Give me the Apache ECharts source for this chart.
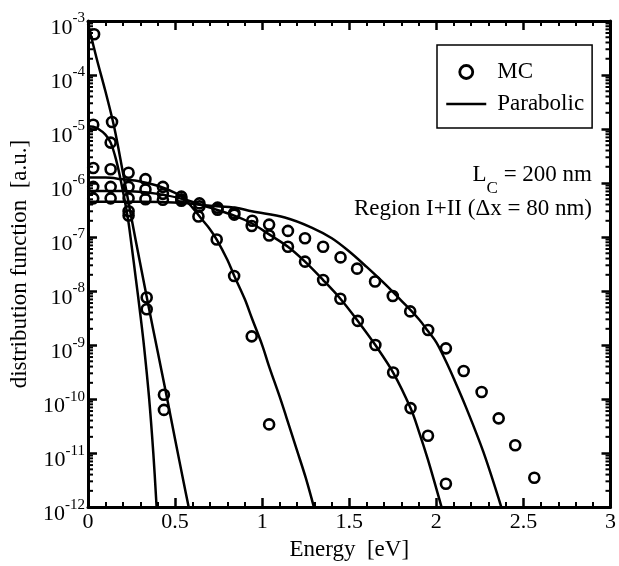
<!DOCTYPE html>
<html>
<head>
<meta charset="utf-8">
<script src="https://cdn.jsdelivr.net/npm/echarts@6/dist/echarts.min.js"></script>
<style>
  html, body { margin: 0; padding: 0; background: #fff; }
  #chart { width: 619px; height: 566px; }
</style>
</head>
<body>
<div id="chart"></div>
<script>
// ---- Monte Carlo samples: energy [eV] and distribution function [a.u.] ----
const mcA_E = [0.035, 0.138, 0.233, 0.337, 0.436];
const mcA_f = [5.7e-4, 1.35e-5, 3.0e-7, 7.6e-9, 1.2e-10];

const mcB_E = [0.03, 0.13, 0.233, 0.337, 0.436];
const mcB_f = [1.2e-5, 5.6e-6, 2.5e-7, 4.6e-9, 6.3e-11];

const mcC_E = [0.03, 0.13, 0.233, 0.33, 0.43, 0.536, 0.634, 0.739, 0.839, 0.94, 1.04];
const mcC_f = [1.9e-6, 1.8e-6, 1.55e-6, 1.18e-6, 8.5e-7, 5.6e-7, 2.4e-7, 9.0e-8, 1.9e-8, 1.45e-9, 3.4e-11];

const mcD_E = [0.03, 0.13, 0.233, 0.33, 0.43, 0.536, 0.64, 0.744, 0.84, 0.94, 1.04, 1.148,
               1.246, 1.35, 1.449, 1.549, 1.65, 1.752, 1.852, 1.952, 2.055];
const mcD_f = [8.5e-7, 8.5e-7, 8.5e-7, 7.6e-7, 6.3e-7, 5.0e-7, 3.7e-7, 3.2e-7, 2.6e-7, 1.6e-7,
               1.07e-7, 6.6e-8, 3.5e-8, 1.6e-8, 7.2e-9, 2.8e-9, 1.0e-9, 3.1e-10, 6.8e-11, 2.1e-11, 2.7e-12];

const mcE_E = [0.03, 0.13, 0.233, 0.33, 0.43, 0.536, 0.64, 0.744, 0.84, 0.943, 1.04, 1.148, 1.246,
               1.35, 1.45, 1.545, 1.648, 1.75, 1.85, 1.953, 2.055, 2.157, 2.26, 2.358, 2.453, 2.5625];
const mcE_f = [5.2e-7, 5.2e-7, 5.2e-7, 5.0e-7, 4.9e-7, 4.7e-7, 4.2e-7, 3.5e-7, 2.8e-7, 2.0e-7, 1.7e-7,
               1.3e-7, 9.5e-8, 6.6e-8, 4.2e-8, 2.6e-8, 1.5e-8, 8.1e-9, 4.2e-9, 1.9e-9, 8.7e-10,
               3.3e-10, 1.35e-10, 4.4e-11, 1.4e-11, 3.5e-12];

// ---- Parabolic-band model curves ----
const parA_E = [0, 0.05, 0.1, 0.15, 0.2, 0.25, 0.3, 0.35, 0.4, 0.45, 0.5, 0.55, 0.578];
const parA_f = [8.9e-4, 2.0e-4, 5.0e-5, 1.1e-5, 1.6e-6, 2.2e-7, 3.2e-8, 4.8e-9, 7.6e-10, 1.2e-10,
                1.8e-11, 2.8e-12, 1.0e-12];

const parB_E = [0, 0.03, 0.06, 0.1, 0.13, 0.16, 0.19, 0.227, 0.25, 0.275, 0.3, 0.322, 0.35, 0.375, 0.394];
const parB_f = [1.12e-5, 1.1e-5, 1.0e-5, 7.9e-6, 5.6e-6, 2.8e-6, 1.05e-6, 2.45e-7, 7.1e-8, 1.66e-8,
                3.8e-9, 9.3e-10, 1.12e-10, 1.0e-11, 1.0e-12];

const parC_E = [0, 0.1, 0.2, 0.3, 0.4, 0.5, 0.545, 0.6, 0.65, 0.7, 0.74, 0.8, 0.84, 0.9, 0.94, 1.0,
                1.04, 1.1, 1.14, 1.2, 1.25, 1.297];
const parC_f = [1.26e-6, 1.26e-6, 1.17e-6, 1.07e-6, 8.9e-7, 6.6e-7, 5.4e-7, 3.5e-7, 2.2e-7, 1.4e-7,
                8.9e-8, 3.8e-8, 1.9e-8, 7.1e-9, 3.2e-9, 1.0e-9, 4.0e-10, 1.12e-10, 4.5e-11, 1.12e-11,
                3.5e-12, 1.0e-12];

const parD_E = [0, 0.2, 0.4, 0.55, 0.7, 0.84, 0.94, 1.04, 1.148, 1.246, 1.35, 1.449, 1.549, 1.65,
                1.752, 1.852, 1.9, 1.95, 2.0, 2.03];
const parD_f = [7.1e-7, 7.1e-7, 6.3e-7, 5.0e-7, 3.5e-7, 2.5e-7, 1.8e-7, 1.12e-7, 6.6e-8, 3.5e-8,
                1.6e-8, 7.2e-9, 2.8e-9, 1.0e-9, 3.1e-10, 6.8e-11, 2.5e-11, 7.9e-12, 2.2e-12, 1.0e-12];

const parE_E = [0, 0.3, 0.527, 0.7, 0.85, 0.94, 1.13, 1.284, 1.4, 1.5, 1.6, 1.7, 1.8, 1.9,
                1.953, 2.0, 2.055, 2.1, 2.17, 2.27, 2.373];
const parE_f = [4.5e-7, 4.5e-7, 4.3e-7, 3.8e-7, 3.5e-7, 3.0e-7, 2.3e-7, 1.5e-7, 9.5e-8, 5.4e-8,
                2.8e-8, 1.4e-8, 6.6e-9, 3.0e-9, 1.8e-9, 1.12e-9, 5.0e-10, 2.4e-10, 7.1e-11, 1.05e-11, 1.0e-12];

// ---- axes ----
const xTicks = [0, 0.5, 1, 1.5, 2, 2.5, 3];
const yExponents = [-12, -11, -10, -9, -8, -7, -6, -5, -4, -3];
const minorMultipliers = [2, 3, 4, 5, 6, 7, 8, 9];

const SERIF = "'Liberation Serif', 'DejaVu Serif', serif";

function pairs(xs, ys) { return xs.map((x, i) => [x, ys[i]]); }

// log-spaced minor ticks for the decade axis (2..9 times each power of ten)
const yMinor = [];
for (let k = 0; k < yExponents.length - 1; k++) {
  for (const m of minorMultipliers) yMinor.push([0, m * Math.pow(10, yExponents[k])]);
}

const mcStyle = { color: 'transparent', borderColor: '#000', borderWidth: 2.6, opacity: 1 };
function mcSeries(xs, ys) {
  return {
    name: 'MC', type: 'scatter', symbol: 'circle', symbolSize: 10,
    itemStyle: mcStyle, data: pairs(xs, ys), z: 4
  };
}
function parSeries(xs, ys) {
  return {
    name: 'Parabolic', type: 'line', symbol: 'none', smooth: 0.35,
    lineStyle: { color: '#000', width: 2.5 }, itemStyle: { color: '#000' },
    data: pairs(xs, ys), z: 3
  };
}

const commonX = {
  type: 'value', min: xTicks[0], max: xTicks[xTicks.length - 1], interval: 0.5,
  axisLine: { show: true, onZero: false, lineStyle: { color: '#000', width: 3 } },
  axisTick: { show: true, inside: true, length: 9, lineStyle: { color: '#000', width: 2.5 } },
  minorTick: { show: true, splitNumber: 5, length: 5, lineStyle: { color: '#000', width: 2 } },
  splitLine: { show: false }, minorSplitLine: { show: false }
};
const commonY = {
  type: 'log', logBase: 10, min: Math.pow(10, yExponents[0]),
  max: Math.pow(10, yExponents[yExponents.length - 1]), splitNumber: 9,
  axisLine: { show: true, onZero: false, lineStyle: { color: '#000', width: 3 } },
  axisTick: { show: true, inside: true, length: 9, lineStyle: { color: '#000', width: 2.5 } },
  splitLine: { show: false }
};

const chart = echarts.init(document.getElementById('chart'), null, { renderer: 'canvas' });
chart.setOption({
  animation: false,
  backgroundColor: '#fff',
  grid: { left: 84, right: 7, top: 21, bottom: 48, containLabel: false },
  xAxis: [
    Object.assign({}, commonX, {
      position: 'bottom',
      name: 'Energy  [eV]', nameLocation: 'middle', nameGap: 17,
      nameTextStyle: { fontFamily: SERIF, fontSize: 23, color: '#000' },
      axisLabel: {
        show: true, margin: 4, color: '#000', fontFamily: SERIF, fontSize: 22,
        formatter: v => String(v)
      }
    }),
    Object.assign({}, commonX, { position: 'top', axisLabel: { show: false } })
  ],
  yAxis: [
    Object.assign({}, commonY, {
      position: 'left',
      name: 'distribution function  [a.u.]', nameLocation: 'middle', nameGap: 57, nameRotate: 90,
      nameTextStyle: { fontFamily: SERIF, fontSize: 23, color: '#000' },
      axisLabel: {
        show: true, margin: 3, padding: [14, 0, 0, 0],
        formatter: v => '{b|10}{s|' + Math.round(Math.log10(v)) + '}',
        rich: {
          b: { fontFamily: SERIF, fontSize: 22, color: '#000', lineHeight: 34 },
          s: { fontFamily: SERIF, fontSize: 15, color: '#000', lineHeight: 14, verticalAlign: 'top' }
        }
      }
    }),
    Object.assign({}, commonY, { position: 'right', axisLabel: { show: false } })
  ],
  legend: {
    left: 437, top: 45, orient: 'vertical',
    padding: [13, 8, 10, 8], itemGap: 4, itemWidth: 40, itemHeight: 13,
    borderColor: '#000', borderWidth: 1.5, backgroundColor: '#fff',
    formatter: '{t|{name}}',
    textStyle: {
      color: '#000', fontFamily: SERIF, fontSize: 23, lineHeight: 28,
      rich: { t: { fontFamily: SERIF, fontSize: 23, lineHeight: 28, padding: [0, 0, 0, 6], color: '#000' } }
    },
    data: [
      { name: 'MC', icon: 'circle', itemStyle: { color: 'transparent', borderColor: '#000', borderWidth: 2.8, opacity: 1 } },
      { name: 'Parabolic', itemStyle: { color: 'transparent', borderColor: 'transparent', borderWidth: 0, opacity: 0 },
        lineStyle: { color: '#000', width: 2.5, opacity: 1 } }
    ],
    selectedMode: false
  },
  graphic: [
    {
      type: 'text', x: 592, y: 175, z: 10,
      style: {
        text: '{n|L}{sub|C}{n| = 200 nm}', align: 'right', verticalAlign: 'middle',
        rich: {
          n: { fontFamily: SERIF, fontSize: 23, lineHeight: 44, fill: '#000' },
          sub: { fontFamily: SERIF, fontSize: 17, lineHeight: 17, verticalAlign: 'bottom', fill: '#000' }
        }
      }
    },
    {
      type: 'text', x: 592, y: 209, z: 10,
      style: {
        text: 'Region I+II (\u0394x = 80 nm)', align: 'right', verticalAlign: 'middle',
        font: "23px 'Liberation Serif', 'DejaVu Serif', serif", fill: '#000'
      }
    }
  ],
  series: [
    parSeries(parA_E, parA_f),
    parSeries(parB_E, parB_f),
    parSeries(parC_E, parC_f),
    parSeries(parD_E, parD_f),
    parSeries(parE_E, parE_f),
    mcSeries(mcA_E, mcA_f),
    mcSeries(mcB_E, mcB_f),
    mcSeries(mcC_E, mcC_f),
    mcSeries(mcD_E, mcD_f),
    mcSeries(mcE_E, mcE_f),
    {
      type: 'custom', silent: true, z: 6, clip: false,
      data: yMinor, encode: { x: 0, y: 1 },
      renderItem: (params, api) => {
        const cs = params.coordSys;
        const y = api.coord([0, api.value(1)])[1];
        const st = { stroke: '#000', lineWidth: 2 };
        return {
          type: 'group', children: [
            { type: 'line', shape: { x1: cs.x, y1: y, x2: cs.x + 5, y2: y }, style: st },
            { type: 'line', shape: { x1: cs.x + cs.width - 5, y1: y, x2: cs.x + cs.width, y2: y }, style: st }
          ]
        };
      }
    }
  ]
});
</script>
</body>
</html>
